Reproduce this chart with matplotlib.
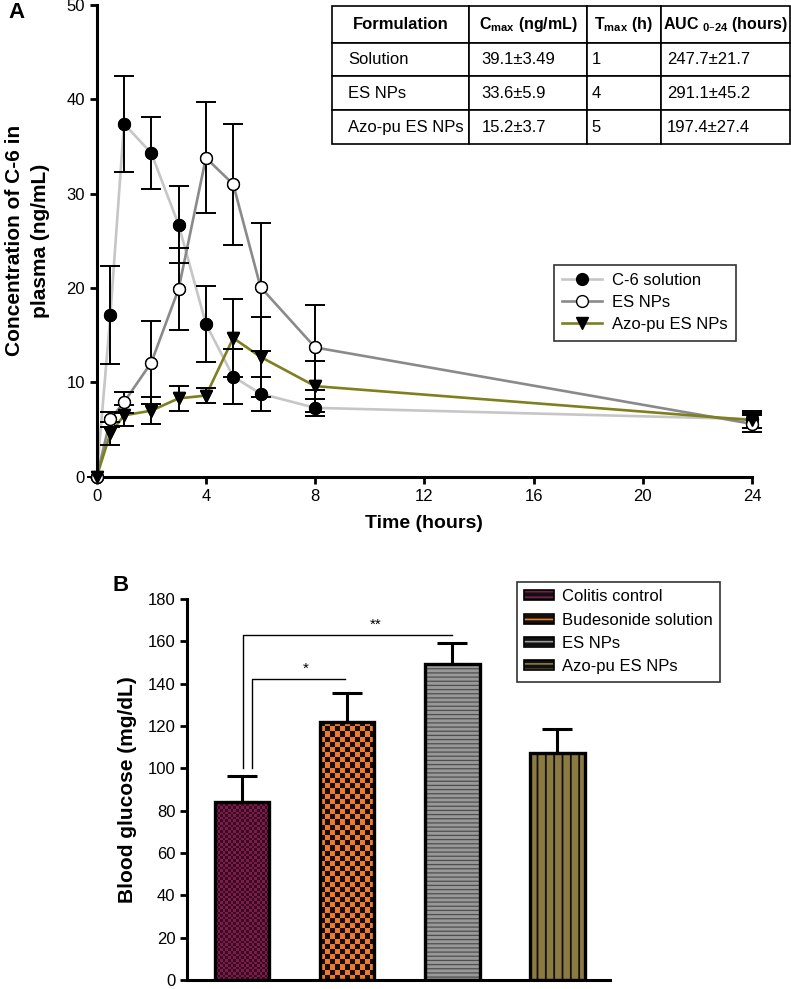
import matplotlib
matplotlib.use('Agg')
import matplotlib as mpl
import matplotlib.pyplot as plt
import numpy as np
from matplotlib.colors import ListedColormap
from matplotlib.patches import Patch
from matplotlib.legend_handler import HandlerTuple

plt.rcParams['font.family'] = ['Liberation Sans', 'DejaVu Sans']

# Panel A: plasma concentration of C-6 over time
time_h = [0, 0.5, 1, 2, 3, 4, 5, 6, 8, 24]
sol_mean = [0, 17.1, 37.4, 34.3, 26.7, 16.2, 10.6, 8.8, 7.3, 6.1]
sol_err = [0, 5.2, 5.1, 3.8, 4.1, 4.0, 2.9, 1.8, 0.9, 0.9]
es_mean = [0, 6.1, 7.9, 12.1, 19.9, 33.8, 31.0, 20.1, 13.7, 5.6]
es_err = [0, 0.8, 1.1, 4.4, 4.3, 5.9, 6.4, 6.8, 4.5, 0.9]
azo_mean = [0, 4.6, 6.5, 7.0, 8.3, 8.6, 14.7, 12.7, 9.6, 6.0]
azo_err = [0, 1.2, 1.1, 1.4, 1.3, 0.8, 4.1, 4.2, 2.7, 0.8]

series_labels = ['C-6 solution', 'ES NPs', 'Azo-pu ES NPs']

# PK table in panel A
table_cols = ['Formulation', r'C$_{\mathregular{max}}$ (ng/mL)', r'T$_{\mathregular{max}}$ (h)',
              'AUC $_{\\mathregular{0\u201324}}$ (hours)']
table_rows = [['Solution', '39.1\u00b13.49', '1', '247.7\u00b121.7'],
              ['ES NPs', '33.6\u00b15.9', '4', '291.1\u00b145.2'],
              ['Azo-pu ES NPs', '15.2\u00b13.7', '5', '197.4\u00b127.4']]

# Panel B: blood glucose
groups = ['Colitis control', 'Budesonide solution', 'ES NPs', 'Azo-pu ES NPs']
glucose = [84.1, 122.0, 149.2, 107.1]
glucose_err = [12.4, 13.6, 9.8, 11.3]

W, H = 791, 989
fig = plt.figure(figsize=(W / 100, H / 100), dpi=100)


def px_axes(x0, y0, x1, y1):
    return fig.add_axes([x0 / W, (H - y1) / H, (x1 - x0) / W, (y1 - y0) / H])


def style_axes(ax):
    for side in ['top', 'right']:
        ax.spines[side].set_visible(False)
    for side in ['left', 'bottom']:
        ax.spines[side].set_linewidth(2.2)
    ax.tick_params(width=2.0, length=5, labelsize=12, direction='out')


def checker_fill(ax, patch, c1, c2, cell_px):
    # checkerboard texture clipped to a bar
    x0, y0 = patch.get_x(), patch.get_y()
    w, h = patch.get_width(), patch.get_height()
    p0 = ax.transData.transform((x0, y0))
    p1 = ax.transData.transform((x0 + w, y0 + h))
    nx = max(1, int(round((p1[0] - p0[0]) / cell_px)))
    ny = max(1, int(round((p1[1] - p0[1]) / cell_px)))
    grid = np.add.outer(np.arange(ny), np.arange(nx)) % 2
    im = ax.imshow(grid, cmap=ListedColormap([c1, c2]), extent=(x0, x0 + w, y0, y0 + h),
                   origin='lower', aspect='auto', interpolation='nearest', zorder=2)
    im.set_clip_path(patch)


# ---------------- Panel A ----------------
axA = px_axes(96.7, 5, 752, 476.7)
style_axes(axA)

line_cols = ['#c6c6c6', '#8a8a8a', '#7f7f1e']
marker_kw = [dict(marker='o', mfc='black', mec='black'),
             dict(marker='o', mfc='white', mec='black'),
             dict(marker='v', mfc='black', mec='black')]
means = [sol_mean, es_mean, azo_mean]
errs = [sol_err, es_err, azo_err]

handles = []
for mean, err, col, mk, lab in zip(means, errs, line_cols, marker_kw, series_labels):
    h, = axA.plot(time_h, mean, color=col, lw=1.9, ms=8.5, mew=1.0, label=lab,
                  zorder=2, clip_on=False, **mk)
    handles.append(h)
    axA.errorbar(time_h, mean, yerr=err, fmt='none', ecolor='black', elinewidth=1.4,
                 capsize=7, capthick=1.4, zorder=3, clip_on=False)
    axA.plot(time_h, mean, ls='none', ms=8.5, mew=1.0, zorder=4, clip_on=False, **mk)

axA.set_xlim(0, 24)
axA.set_ylim(0, 50)
axA.set_xticks(range(0, 25, 4))
axA.set_yticks(range(0, 51, 10))
axA.set_xlabel('Time (hours)', fontsize=14, fontweight='bold', labelpad=8)
axA.set_ylabel('Concentration of C-6 in\nplasma (ng/mL)', fontsize=15, fontweight='bold',
               linespacing=1.45, labelpad=12)

legA = axA.legend(handles=handles, loc='upper left', bbox_to_anchor=(0.698, 0.449),
                  borderaxespad=0, fontsize=12, frameon=True, fancybox=False,
                  handlelength=2.4, handletextpad=0.55, borderpad=0.5, labelspacing=0.42)
legA.get_frame().set_edgecolor('black')
legA.get_frame().set_linewidth(1.2)

# table
col_px = [137.3, 117.4, 74.0, 129.3]
total = sum(col_px)
axw = 752 - 96.7
tbl = axA.table(cellText=table_rows, colLabels=table_cols,
                colWidths=[c / total for c in col_px], cellLoc='left',
                bbox=[(332 - 96.7) / axw, (476.7 - 144) / 471.7, total / axw, (144 - 6) / 471.7])
tbl.auto_set_font_size(False)
pads = [0.115, 0.105, 0.07, 0.047]
for (r, c), cell in tbl.get_celld().items():
    cell.set_linewidth(1.2)
    cell.set_edgecolor('black')
    cell.PAD = pads[c]
    cell.set_height(36.7 if r == 0 else 33.8)
    t = cell.get_text()
    if r == 0:
        t.set_fontsize(11.5 if c > 0 else 12)
        t.set_fontweight('bold')
    else:
        t.set_fontsize(12)
tbl.set_clip_on(False)

fig.text(8 / W, 1 - 2 / H, 'A', fontsize=16, fontweight='bold', va='top', ha='left')

# ---------------- Panel B ----------------
axB = px_axes(187.3, 599, 610, 980)
style_axes(axB)
axB.set_xlim(-0.52, 3.5)
axB.set_ylim(0, 180)

xs = list(range(len(groups)))
bar_w = 0.52

outlines = []
for x, v in zip(xs, glucose):
    outlines.append(axB.bar(x, v, width=bar_w, facecolor='none', edgecolor='black',
                            lw=2.4, zorder=3)[0])

# textures
checker_fill(axB, outlines[0], '#3a0a1f', '#7a1c4c', 2.6)
checker_fill(axB, outlines[1], '#f07a2a', '#111111', 5.2)
mpl.rcParams['hatch.linewidth'] = 0.9
axB.bar(xs[2], glucose[2], width=bar_w, color='#999999', edgecolor='#4e4e4e',
        hatch='----', lw=0, zorder=2)
mpl.rcParams['hatch.linewidth'] = 1.3
axB.bar(xs[3], glucose[3], width=bar_w, color='#8b7a42', edgecolor='#111111',
        hatch='||', lw=0, zorder=2)

axB.errorbar(xs, glucose, yerr=[[0] * len(glucose), glucose_err], fmt='none', ecolor='black',
             elinewidth=2.2, capsize=11, capthick=2.2, zorder=1)

axB.set_xlim(-0.52, 3.5)
axB.set_ylim(0, 180)
axB.set_yticks(range(0, 181, 20))
axB.set_xticks([])
axB.set_ylabel('Blood glucose (mg/dL)', fontsize=15, fontweight='bold', labelpad=8)

# significance brackets
axB.plot([0.10, 0.10, 0.98], [100, 142, 142], color='black', lw=1.0, zorder=4)
axB.text(0.61, 143.5, '*', ha='center', va='bottom', fontsize=11)
axB.plot([0.01, 0.01, 2.0], [100, 163, 163], color='black', lw=1.0, zorder=4)
axB.text(1.27, 164.5, '**', ha='center', va='bottom', fontsize=11)

# legend swatches: dark box with coloured pattern
sw_cols = ['#7a1c4c', '#f07a2a', '#9a9a9a', '#8b7a42']
mpl.rcParams['hatch.linewidth'] = 1.2
legend_handles = []
for c in sw_cols:
    legend_handles.append((Patch(facecolor='#111111', edgecolor=c, hatch='---', lw=0),
                           Patch(facecolor='none', edgecolor='black', lw=1.2)))

legB = axB.legend(legend_handles, groups, loc='upper left', bbox_to_anchor=(0.779, 1.045),
                  borderaxespad=0, fontsize=12, frameon=True, fancybox=False,
                  handler_map={tuple: HandlerTuple(ndivide=1, pad=0)},
                  handlelength=1.8, handleheight=0.55, handletextpad=0.45,
                  borderpad=0.45, labelspacing=0.5)
legB.get_frame().set_edgecolor('black')
legB.get_frame().set_linewidth(1.2)

fig.text(113 / W, 1 - 575 / H, 'B', fontsize=16, fontweight='bold', va='top', ha='left')

fig.savefig('out.png', dpi=100)
